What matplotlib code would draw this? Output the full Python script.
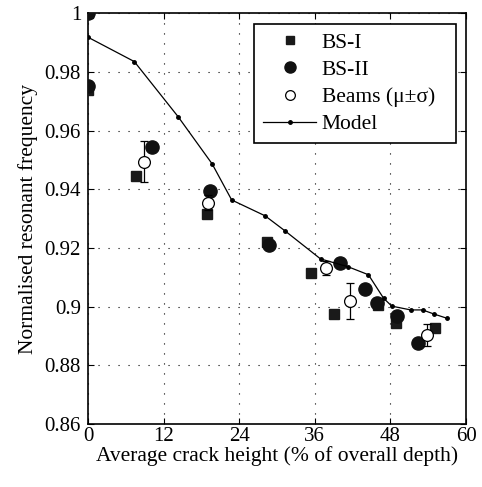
import matplotlib
matplotlib.use("Agg")
import matplotlib.pyplot as plt
from matplotlib.ticker import FuncFormatter
from matplotlib.lines import Line2D

plt.rcParams['font.family'] = ['Liberation Serif', 'DejaVu Serif']

# Model
model_x = [0, 7.35, 14.3, 19.7, 22.8, 28.1, 31.3, 36.9, 41.3, 44.5, 46.9, 48.2, 51.2, 53.1, 54.9, 56.9]
model_y = [0.9919, 0.9836, 0.9648, 0.9487, 0.9364, 0.9310, 0.9258, 0.9163, 0.9136, 0.9109, 0.9029, 0.9002, 0.8989, 0.8989, 0.8975, 0.8961]

# BS-I
bs1_x = [0, 0, 7.6, 18.9, 28.4, 35.4, 39.0, 46.0, 48.8, 55.0]
bs1_y = [1.0, 0.9739, 0.9447, 0.9316, 0.9222, 0.9116, 0.8975, 0.9005, 0.8945, 0.8928]

# BS-II
bs2_x = [0, 0, 10.2, 19.3, 28.8, 40.0, 43.9, 45.8, 49.0, 52.3]
bs2_y = [1.0, 0.9753, 0.9546, 0.9395, 0.9210, 0.9150, 0.9060, 0.9012, 0.8968, 0.8877]

# Beams mean +- sigma
beam_x = [8.9, 19.1, 37.8, 41.5, 53.8]
beam_y = [0.9495, 0.9355, 0.9131, 0.9019, 0.8903]
beam_s = [0.0070, 0.0025, 0.0024, 0.0061, 0.0037]

xticks = [0, 12, 24, 36, 48, 60]
yticks = [0.86, 0.88, 0.90, 0.92, 0.94, 0.96, 0.98, 1.0]

fig = plt.figure(figsize=(4.82, 4.87), dpi=100)
ax = fig.add_axes([0.1826, 0.1294, 0.7844, 0.8429])

ax.plot(bs1_x, bs1_y, 's', color='#1a1a1a', markersize=7.5, zorder=3)
ax.plot(bs2_x, bs2_y, 'o', color='#111111', markersize=9.5, zorder=4)
ax.errorbar(beam_x, beam_y, yerr=beam_s, fmt='o', mfc='white', mec='black', ecolor='black',
            markersize=8.5, mew=0.9, elinewidth=0.9, capsize=3, capthick=0.9, zorder=5)
ax.plot(model_x, model_y, '-', color='black', lw=0.9, marker='o', markersize=2.5, zorder=6)

ax.set_xlim(0, 60)
ax.set_ylim(0.86, 1.0)
ax.set_xticks(xticks)
ax.set_yticks(yticks)
ax.yaxis.set_major_formatter(FuncFormatter(lambda v, p: f'{v:g}'))
ax.grid(True, linestyle=(0, (1, 8)), color='black', linewidth=0.8)
ax.tick_params(direction='in', top=True, right=True, labelsize=15, length=4, width=0.8)
ax.tick_params(axis='y', pad=5)
ax.tick_params(axis='x', pad=2)
for s in ax.spines.values():
    s.set_linewidth(1.2)

ax.set_xlabel('Average crack height (% of overall depth)', fontsize=15.5, labelpad=0)
ax.set_ylabel('Normalised resonant frequency', fontsize=15.5, labelpad=5)

handles = [
    Line2D([], [], ls='none', marker='s', color='#1a1a1a', markersize=6),
    Line2D([], [], ls='none', marker='o', color='#111111', markersize=8),
    Line2D([], [], ls='none', marker='o', mfc='white', mec='black', mew=0.9, markersize=7),
    Line2D([], [], ls='-', color='black', lw=0.9, marker='o', markersize=2.5),
]
labels = ['BS-I', 'BS-II', 'Beams (μ±σ)', 'Model']
leg = ax.legend(handles, labels, loc='upper left', bbox_to_anchor=(0.439, 0.0, 0.535, 0.974),
                mode='expand', borderaxespad=0, fontsize=15.5, frameon=True,
                fancybox=False, edgecolor='black', framealpha=1, borderpad=0.4,
                labelspacing=0.33, handlelength=2.5, handletextpad=0.25, handleheight=0.7)
leg.get_frame().set_linewidth(1.2)

fig.savefig('out.png', dpi=100)
